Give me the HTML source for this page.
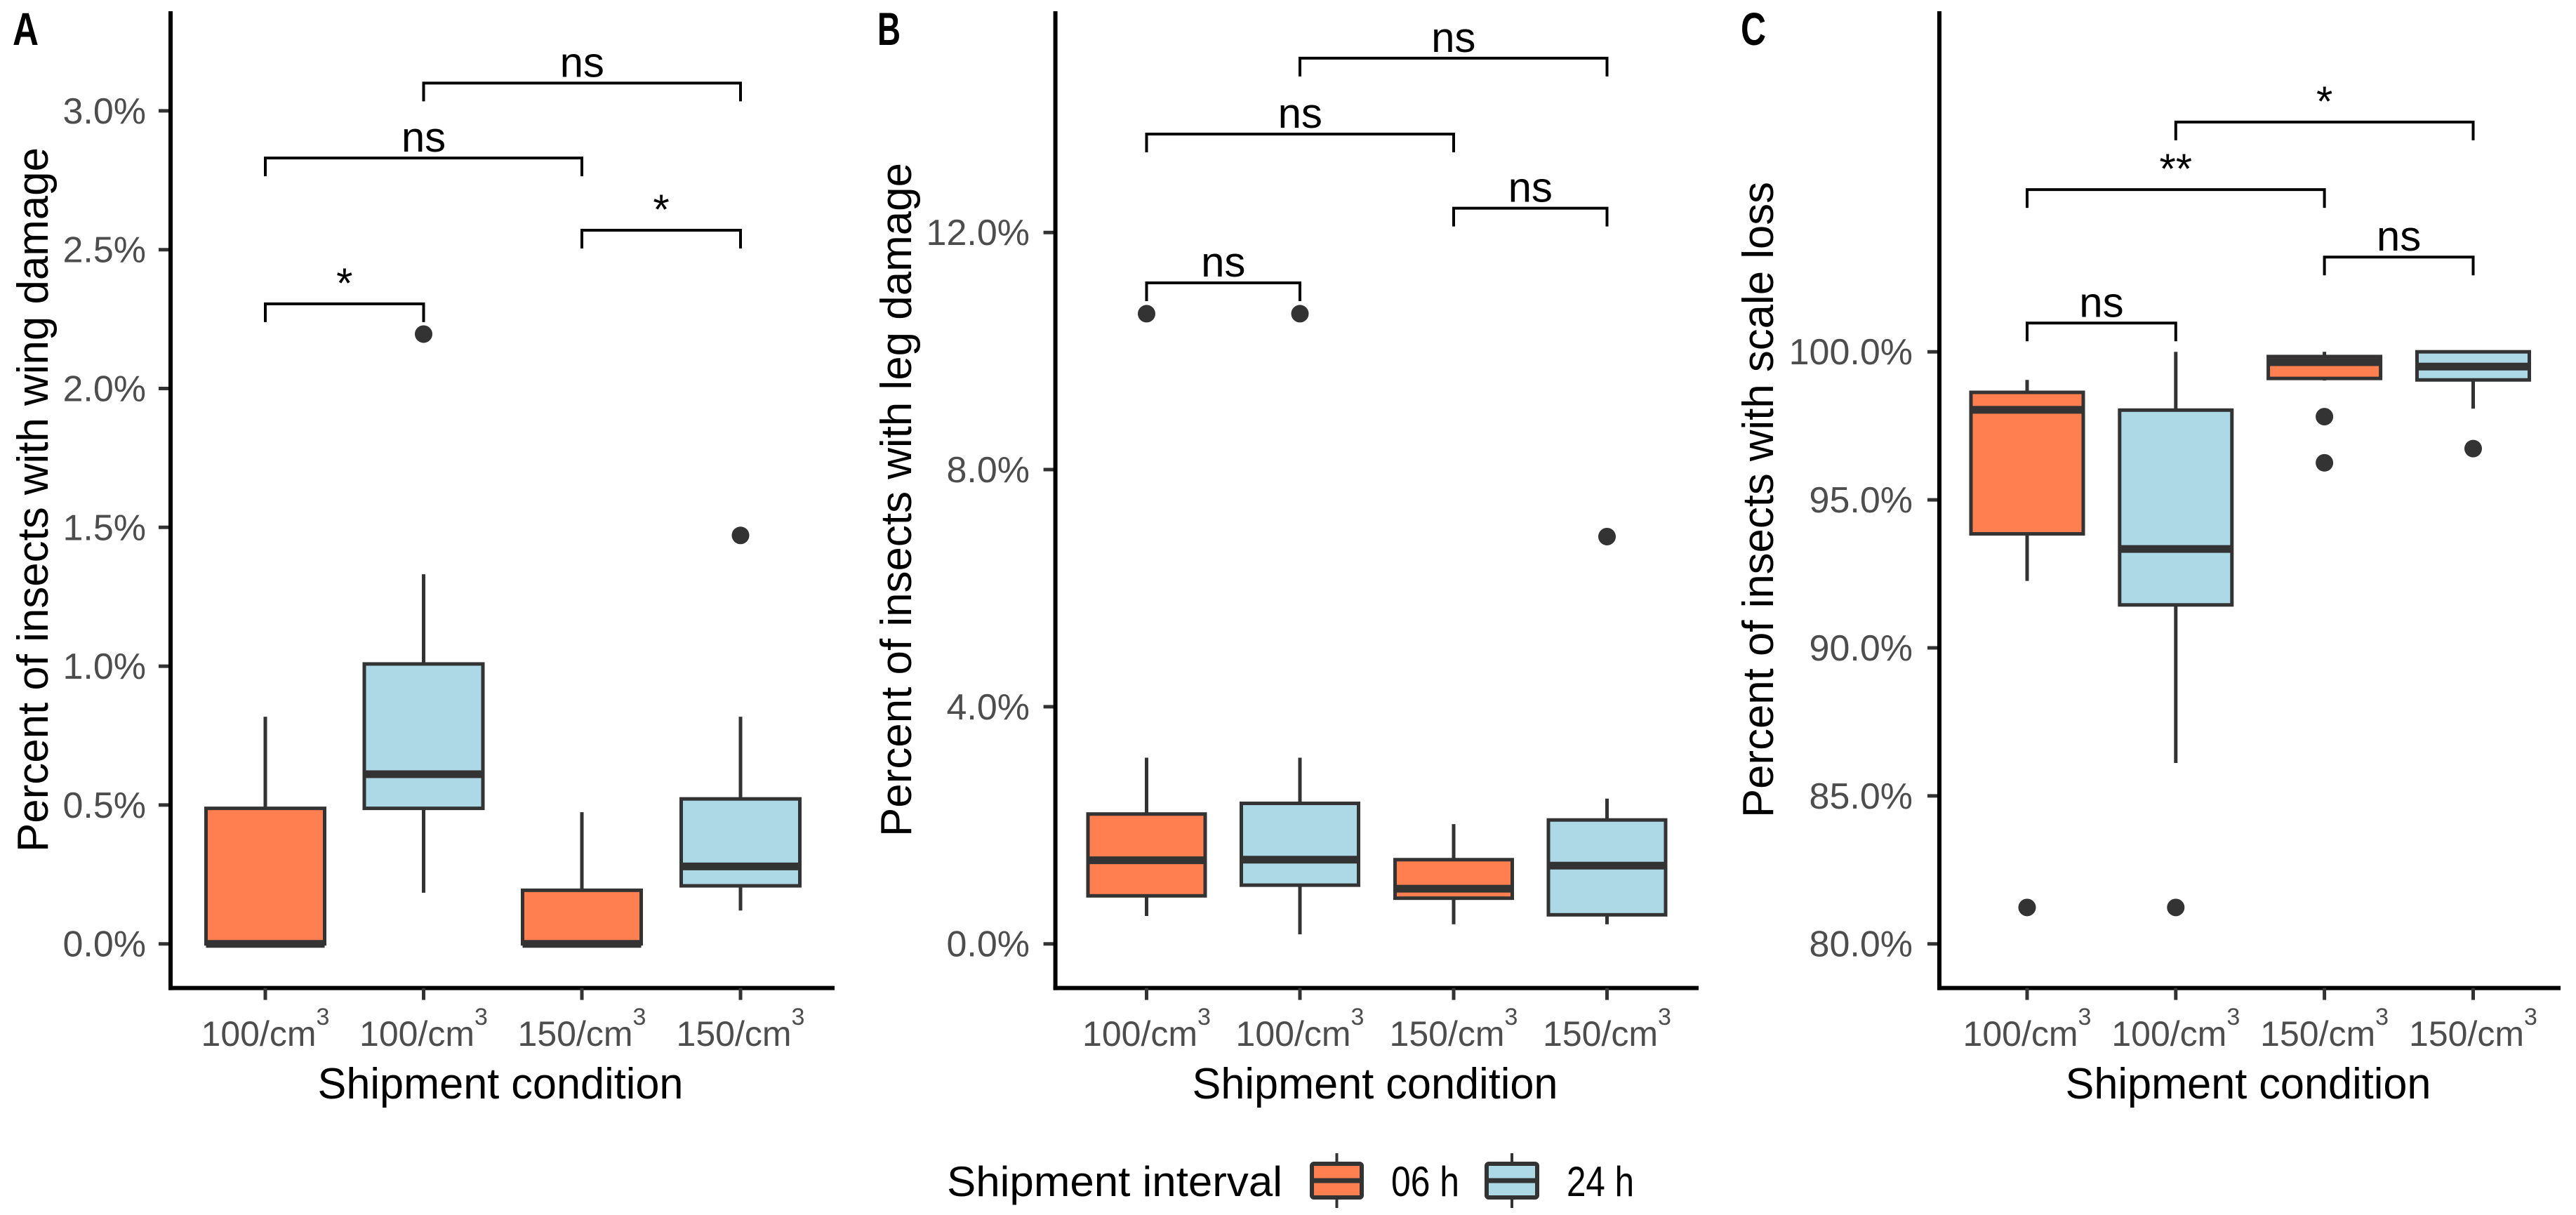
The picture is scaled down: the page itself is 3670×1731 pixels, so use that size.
<!DOCTYPE html>
<html><head><meta charset="utf-8"><style>
html,body{margin:0;padding:0;background:#fff}
svg{display:block}
text{font-family:"Liberation Sans",sans-serif}
</style></head><body>
<svg id="fig" width="3670" height="1731" viewBox="0 0 3670 1731" xmlns="http://www.w3.org/2000/svg"></svg>
<script>
// ---- shared data ----
const catLabels = ["100/cm","100/cm","150/cm","150/cm"];
const groups = ["06 h","24 h","06 h","24 h"];
// Panel A: wing damage (%)
const wingQ1 = [0, 0.488, 0, 0.209];
const wingMed = [0, 0.611, 0, 0.279];
const wingQ3 = [0.488, 1.008, 0.193, 0.522];
const wingLo = [0, 0.184, 0, 0.120];
const wingHi = [0.818, 1.331, 0.474, 0.818];
const wingOut = [[], [2.196], [], [1.471]];
const wingTicks = [0, 0.5, 1, 1.5, 2, 2.5, 3];
const wingBrackets = [[0,1,2.305,"*"],[0,2,2.83,"ns"],[1,3,3.10,"ns"],[2,3,2.57,"*"]];
// Panel B: leg damage (%)
const legQ1 = [0.81, 0.99, 0.77, 0.49];
const legMed = [1.41, 1.42, 0.93, 1.32];
const legQ3 = [2.19, 2.37, 1.42, 2.09];
const legLo = [0.47, 0.16, 0.33, 0.33];
const legHi = [3.14, 3.14, 2.02, 2.45];
const legOut = [[10.63], [10.63], [], [6.87]];
const legTicks = [0, 4, 8, 12];
const legBrackets = [[0,1,11.15,"ns"],[0,2,13.66,"ns"],[1,3,14.94,"ns"],[2,3,12.41,"ns"]];
// Panel C: scale loss (%)
const scaleQ1 = [93.85, 91.45, 99.10, 99.05];
const scaleMed = [98.04, 93.34, 99.65, 99.50];
const scaleQ3 = [98.63, 98.03, 99.84, 100.0];
const scaleLo = [92.26, 86.11, 99.03, 98.08];
const scaleHi = [99.05, 100.0, 100.0, 100.0];
const scaleOut = [[81.23], [81.23], [97.81, 96.25], [96.73]];
const scaleTicks = [80, 85, 90, 95, 100];
const scaleBrackets = [[0,1,100.97,"ns"],[0,2,105.48,"**"],[1,3,107.76,"*"],[2,3,103.20,"ns"]];

const NS = "http://www.w3.org/2000/svg";
const svg = document.getElementById("fig");
const FILL = {"06 h":"#FF7F50","24 h":"#ADD8E6"};
function el(tag, attrs, parent){
  const e = document.createElementNS(NS, tag);
  for (const k in attrs) e.setAttribute(k, attrs[k]);
  (parent||svg).appendChild(e);
  return e;
}

// layout (pixels)
const layouts = [
  {letter:"A", ax:243, right:1189, cats:[378,603.5,829,1055], bw:169, v0:0, p0:1344.7, v1:3, p1:157.9,
   title:"Percent of insects with wing damage", tx:68, tlen:1004, lblRight:208, xtc:713, lx:18, llen:37,
   q1:wingQ1, med:wingMed, q3:wingQ3, lo:wingLo, hi:wingHi, out:wingOut, ticks:wingTicks, br:wingBrackets},
  {letter:"B", ax:1503.6, right:2420, cats:[1633.5,1852,2071,2289.5], bw:167, v0:0, p0:1344.7, v1:12, p1:331.2,
   title:"Percent of insects with leg damage", tx:1298, tlen:960, lblRight:1467, xtc:1959, lx:1250, llen:33,
   q1:legQ1, med:legMed, q3:legQ3, lo:legLo, hi:legHi, out:legOut, ticks:legTicks, br:legBrackets},
  {letter:"C", ax:2763, right:3648, cats:[2888,3099.8,3311.6,3523.5], bw:160, v0:80, p0:1344.7, v1:100, p1:501.2,
   title:"Percent of insects with scale loss", tx:2526, tlen:906, lblRight:2725, xtc:3203, lx:2480, llen:36,
   q1:scaleQ1, med:scaleMed, q3:scaleQ3, lo:scaleLo, hi:scaleHi, out:scaleOut, ticks:scaleTicks, br:scaleBrackets}
];
const AXY = 1407.6;

layouts.forEach((L, pi) => {
  const g = el("g", {});
  
  
  const y = v => L.p0 - (v - L.v0) * (L.p0 - L.p1) / (L.v1 - L.v0);

  const lt = el("text", {x:L.lx, y:64, "font-family":"Liberation Serif, serif", "font-weight":"bold", "font-size":66, textLength:L.llen, lengthAdjust:"spacingAndGlyphs", fill:"#000"}, g);
  lt.textContent = L.letter;
  
  

  L.ticks.forEach(t => {
    const py = y(t);
    const tk = el("line", {x1:L.ax-17, x2:L.ax, y1:py, y2:py, stroke:"#333", "stroke-width":5}, g);
    
    
    const tl = el("text", {x:L.lblRight, y:py+18, "font-size":52, fill:"#4d4d4d", "text-anchor":"end"}, g);
    tl.textContent = t.toFixed(1) + "%";
    
    
  });

  const yt = el("text", {x:0, y:0, "font-size":62, fill:"#000", "text-anchor":"middle", textLength:L.tlen, lengthAdjust:"spacingAndGlyphs", transform:`translate(${L.tx},712) rotate(-90)`}, g);
  yt.textContent = L.title;
  
  

  L.cats.forEach((cx, i) => {
    const bg = el("g", {}, g);
    
    
    const w1 = el("line", {x1:cx, x2:cx, y1:y(L.hi[i]), y2:y(L.q3[i]), stroke:"#333", "stroke-width":5}, bg);
    
    
    const w2 = el("line", {x1:cx, x2:cx, y1:y(L.q1[i]), y2:y(L.lo[i]), stroke:"#333", "stroke-width":5}, bg);
    
    
    const r = el("rect", {x:cx-L.bw/2, y:y(L.q3[i]), width:L.bw, height:Math.max(0.5, y(L.q1[i])-y(L.q3[i])), fill:FILL[groups[i]], stroke:"#333", "stroke-width":5}, bg);
    
    
    const m = el("line", {x1:cx-L.bw/2, x2:cx+L.bw/2, y1:y(L.med[i]), y2:y(L.med[i]), stroke:"#333", "stroke-width":11}, bg);
    
    
    L.out[i].forEach(o => {
      const c = el("circle", {cx:cx, cy:y(o), r:12.5, fill:"#333"}, bg);
      
      
    });
  });

  L.br.forEach(b => {
    const x1 = L.cats[b[0]], x2 = L.cats[b[1]], by = y(b[2]);
    const p = el("path", {d:`M${x1},${by+26} V${by} H${x2} V${by+26}`, fill:"none", stroke:"#000", "stroke-width":4}, g);
    
    
    const t = el("text", {x:(x1+x2)/2, y:by-9, "font-size":60, fill:"#000", "text-anchor":"middle"}, g);
    t.textContent = b[3];
    
    
  });

  const yl = el("line", {x1:L.ax, x2:L.ax, y1:16, y2:AXY+3, stroke:"#000", "stroke-width":6}, g);
  
  
  const xl = el("line", {x1:L.ax-3, x2:L.right, y1:AXY, y2:AXY, stroke:"#000", "stroke-width":6}, g);
  
  

  L.cats.forEach((cx, i) => {
    const tk = el("line", {x1:cx, x2:cx, y1:AXY, y2:AXY+17, stroke:"#333", "stroke-width":5}, g);
    
    
    const tl = el("text", {x:cx, y:1490, "font-size":50, fill:"#4d4d4d", "text-anchor":"middle"}, g);
    
    
    const s1 = el("tspan", {}, tl); s1.textContent = catLabels[i];
    const s2 = el("tspan", {"font-size":34, dy:-30}, tl); s2.textContent = "3";
  });

  const xt = el("text", {x:L.xtc, y:1565, "font-size":62, fill:"#000", "text-anchor":"middle", textLength:521, lengthAdjust:"spacingAndGlyphs"}, g);
  xt.textContent = "Shipment condition";
  
  
});

const lg = el("g", {});


const lt = el("text", {x:1349, y:1704, "font-size":60, fill:"#000", textLength:478, lengthAdjust:"spacingAndGlyphs"}, lg);
lt.textContent = "Shipment interval";


[[1869, 1940, "06 h", 1982, 97],[2118, 2190, "24 h", 2232, 96]].forEach(k => {
  const eg = el("g", {}, lg);
  
  
  const cx = (k[0]+k[1])/2;
  el("line", {x1:cx, x2:cx, y1:1643, y2:1721, stroke:"#333", "stroke-width":4}, eg);
  const r = el("rect", {x:k[0], y:1658, width:k[1]-k[0], height:48, rx:3, fill:FILL[k[2]], stroke:"#333", "stroke-width":6}, eg);
  
  
  el("line", {x1:k[0], x2:k[1], y1:1682, y2:1682, stroke:"#333", "stroke-width":7}, eg);
  const t = el("text", {x:k[3], y:1704, "font-size":60, fill:"#000", textLength:k[4], lengthAdjust:"spacingAndGlyphs"}, eg);
  t.textContent = k[2];
  
  
});
</script>
</body></html>
